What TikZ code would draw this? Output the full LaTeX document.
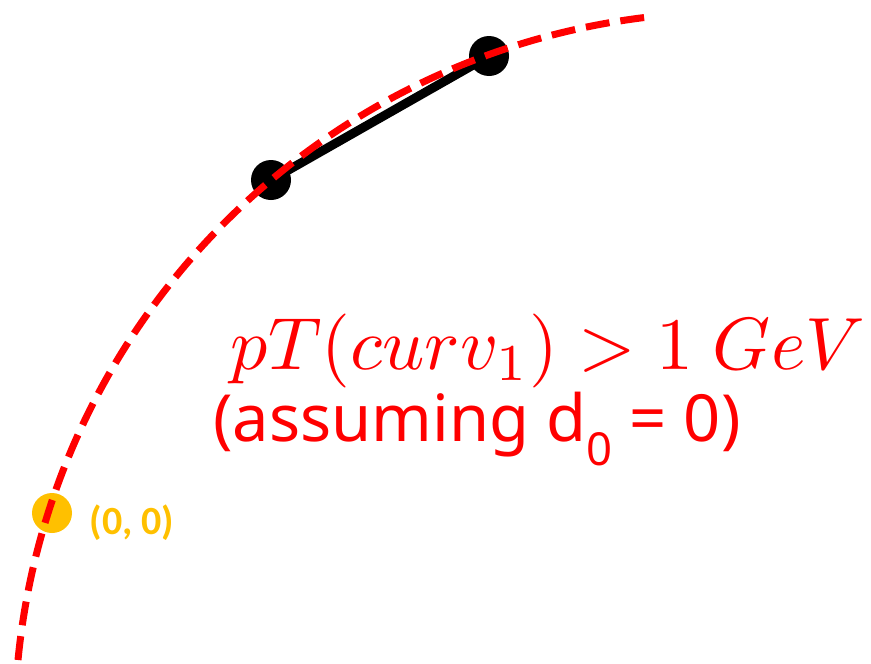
\documentclass[tikz,border=0pt]{standalone}
\usepackage{fontspec}
\setmainfont{Noto Sans}
\newfontfamily\originfont{Carlito}
\usetikzlibrary{positioning}

\definecolor{gold}{RGB}{255,192,0}
\tikzset{
    track/.style={red, line width=7pt, dash pattern=on 24pt off 11pt},
    hit/.style={circle, fill=black, inner sep=0pt, minimum size=40pt},
    vertex/.style={circle, fill=gold, inner sep=0pt, minimum size=40pt},
}

\begin{document}
\begin{tikzpicture}[x=1pt, y=-1pt]
    \useasboundingbox (0,0) rectangle (871,664);

    % Hits and segment
    \node[vertex] (origin) at (52,513) {};
    \node[hit] (hitA) at (271,180) {};
    \node[hit] (hitB) at (489,56) {};
    \draw[line width=9pt] (hitA.center) -- (hitB.center);

    % Track (circle arc)
    \draw[track] (18,660) arc[start angle=185.6, end angle=263.2, radius=718];

    % Labels
    \node[gold, font=\originfont\bfseries\fontsize{40}{44}\selectfont, anchor=west]
        (originlbl) at (86,523) {(0, 0)};
    \node[red, scale=7.4] (cut) at (548,351)
        {$pT(curv_1)>1\ GeV$};
    \node[red, font=\fontsize{65}{70}\selectfont] (note) at (477,429)
        {(assuming d\textsubscript{0} = 0)};
\end{tikzpicture}
\end{document}
